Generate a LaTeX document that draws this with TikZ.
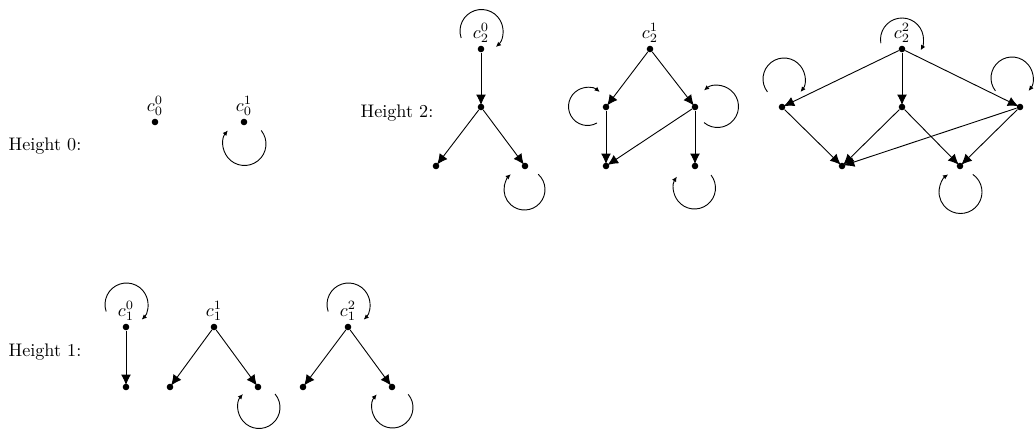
\documentclass[tikz,border=0pt]{standalone}
\usetikzlibrary{arrows.meta}
\begin{document}
\begin{tikzpicture}[x=0.55pt,y=-0.55pt,
  dot/.style={circle,fill,inner sep=0pt,minimum size=3.6pt},
  edge/.style={-{Latex[length=5.8pt,width=5.4pt]},line width=0.5pt,shorten >=-1pt},
  loopar/.style={-{Latex[length=2.8pt,width=2.6pt]},line width=0.5pt},
  lbl/.style={inner sep=0pt}]
\useasboundingbox (0,0) rectangle (1034,434);
\newcommand\lp[5]{\draw[loopar] (#1,#2) ++(#4:#3) arc[start angle=#4,end angle=#5,radius=#3];}

% Height 0
\node[lbl] (h0) at (45,146) {Height 0:};
\node[dot] (a0) at (155,122) {};
\node[lbl] (a0l) at (155,106) {$c_0^0$};
\node[dot] (a1) at (244,122) {};
\node[lbl] (a1l) at (244,106) {$c_0^1$};
\lp{244.5}{144}{21.5}{-39}{219}

% Height 2
\node[lbl] (h2) at (397,113) {Height 2:};
% c20
\node[dot] (p0) at (481,49) {};
\node[lbl] (p0l) at (481,33) {$c_2^0$};
\node[dot] (p1) at (481,107) {};
\node[dot] (p2) at (436,166) {};
\node[dot] (p3) at (525,166) {};
\draw[edge] (p0) -- (p1);
\draw[edge] (p1) -- (p2);
\draw[edge] (p1) -- (p3);
\lp{481.5}{31}{21.5}{-199}{48}
\lp{524.5}{189.5}{20.5}{-48}{228}
% c21
\node[dot] (q0) at (650,49) {};
\node[lbl] (q0l) at (650,33) {$c_2^1$};
\node[dot] (q1) at (606,107) {};
\node[dot] (q2) at (695,107) {};
\node[dot] (q3) at (606,166) {};
\node[dot] (q4) at (695,166) {};
\draw[edge] (q0) -- (q1);
\draw[edge] (q0) -- (q2);
\draw[edge] (q1) -- (q3);
\draw[edge] (q2) -- (q3);
\draw[edge] (q2) -- (q4);
\lp{587.5}{106.5}{19}{60}{310}
\lp{717.5}{106.5}{21}{130}{-130}
\lp{694.5}{188}{21}{-38}{213}
% c22
\node[dot] (r0) at (902,49) {};
\node[lbl] (r0l) at (902,33) {$c_2^2$};
\node[dot] (r1) at (782,107) {};
\node[dot] (r2) at (902,107) {};
\node[dot] (r3) at (1020,107) {};
\node[dot] (r4) at (842,166) {};
\node[dot] (r5) at (960,166) {};
\draw[edge] (r0) -- (r1);
\draw[edge] (r0) -- (r2);
\draw[edge] (r0) -- (r3);
\draw[edge] (r1) -- (r4);
\draw[edge] (r2) -- (r4);
\draw[edge] (r2) -- (r5);
\draw[edge] (r3) -- (r4);
\draw[edge] (r3) -- (r5);
\lp{902}{39.5}{21.5}{-190}{30}
\lp{784}{79}{21}{-218}{38}
\lp{1012}{78}{21}{-218}{38}
\lp{960.5}{192}{21.5}{-55}{235}

% Height 1
\node[lbl] (h1) at (45,352) {Height 1:};
% c10
\node[dot] (s0) at (126,327) {};
\node[lbl] (s0l) at (126,311) {$c_1^0$};
\node[dot] (s1) at (126,387) {};
\draw[edge] (s0) -- (s1);
\lp{126.5}{304.5}{21.5}{-199}{45}
% c11
\node[dot] (t0) at (214,327) {};
\node[lbl] (t0l) at (214,311) {$c_1^1$};
\node[dot] (t1) at (170,387) {};
\node[dot] (t2) at (258,387) {};
\draw[edge] (t0) -- (t1);
\draw[edge] (t0) -- (t2);
\lp{259}{407.5}{21}{-40}{220}
% c12
\node[dot] (u0) at (348,327) {};
\node[lbl] (u0l) at (348,311) {$c_1^2$};
\node[dot] (u1) at (303,387) {};
\node[dot] (u2) at (392,387) {};
\draw[edge] (u0) -- (u1);
\draw[edge] (u0) -- (u2);
\lp{348.5}{304.5}{21.5}{-199}{45}
\lp{392.5}{407.5}{20.5}{-40}{220}
\end{tikzpicture}
\end{document}
